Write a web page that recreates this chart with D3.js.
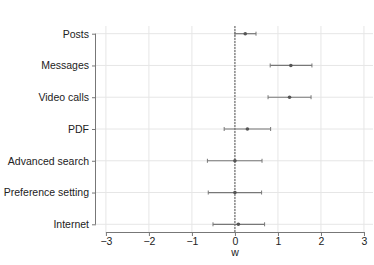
<!DOCTYPE html>
<html>
<head>
<meta charset="utf-8">
<script src="https://cdn.jsdelivr.net/npm/d3@7"></script>
<style>
body { margin: 0; background: #fff; }
text { font-family: "Liberation Sans", Arial, sans-serif; }
</style>
</head>
<body>
<script>
var categories = ["Posts", "Messages", "Video calls", "PDF", "Advanced search", "Preference setting", "Internet"];
var estimates = [0.24, 1.30, 1.27, 0.29, 0.00, 0.00, 0.08];
var lower = [0.00, 0.82, 0.77, -0.25, -0.64, -0.62, -0.51];
var upper = [0.49, 1.79, 1.77, 0.83, 0.63, 0.62, 0.69];
var xTicks = [-3, -2, -1, 0, 1, 2, 3];

var width = 374,
    height = 265,
    plotLeft = 96,
    plotRight = 373,
    plotTop = 26,
    plotBottom = 232;

var svg = d3.select("body")
            .append("svg")
            .attr("width", width)
            .attr("height", height);

var x = d3.scaleLinear().domain([-3.23, 3.21]).range([plotLeft, plotRight]);
var y = d3.scalePoint().domain(categories).range([plotTop + 7.7, plotBottom - 7.7]);

// grid
svg.selectAll(".vgrid")
   .data(xTicks)
   .enter()
   .append("line")
   .attr("x1", function(d){ return x(d); })
   .attr("x2", function(d){ return x(d); })
   .attr("y1", plotTop)
   .attr("y2", plotBottom)
   .attr("stroke", "#e6e6e6")
   .attr("stroke-width", 1);

svg.selectAll(".hgrid")
   .data(categories)
   .enter()
   .append("line")
   .attr("x1", plotLeft)
   .attr("x2", plotRight)
   .attr("y1", function(d){ return y(d); })
   .attr("y2", function(d){ return y(d); })
   .attr("stroke", "#e6e6e6")
   .attr("stroke-width", 1);

// zero line
svg.append("line")
   .attr("x1", x(0)).attr("x2", x(0))
   .attr("y1", plotTop).attr("y2", plotBottom)
   .attr("stroke", "#555")
   .attr("stroke-width", 1)
   .attr("stroke-dasharray", "2,1");

// x axis, trimmed to the ticks
var xAxis = svg.append("g")
   .attr("transform", "translate(0," + plotBottom + ")")
   .call(d3.axisBottom(x).tickValues(xTicks).tickSize(4).tickSizeOuter(0).tickFormat(d3.format("d")));
xAxis.select(".domain").attr("d", "M" + x(-3) + ",0.5H" + x(3)).attr("stroke", "#777");
xAxis.selectAll(".tick line").attr("stroke", "#777");
xAxis.selectAll("text").attr("font-size", "10.5px").attr("fill", "#222").attr("dy", "0.6em");

// y axis, trimmed to the categories
var yAxis = svg.append("g")
   .attr("transform", "translate(" + plotLeft + ",0)")
   .call(d3.axisLeft(y).tickSize(4).tickSizeOuter(0));
yAxis.select(".domain").attr("d", "M-0.5," + y(categories[0]) + "V" + y(categories[categories.length - 1])).attr("stroke", "#777");
yAxis.selectAll(".tick line").attr("stroke", "#777");
yAxis.selectAll("text").attr("font-size", "10.5px").attr("fill", "#222");

svg.append("text")
   .attr("x", x(0))
   .attr("y", 256)
   .attr("text-anchor", "middle")
   .attr("font-size", "10.5px")
   .attr("fill", "#222")
   .text("w");

// error bars
var rows = categories.map(function(c, i){ return {cat: c, est: estimates[i], lo: lower[i], hi: upper[i]}; });

var bars = svg.selectAll(".bar")
   .data(rows)
   .enter()
   .append("g");

bars.append("line")
   .attr("x1", function(d){ return x(d.lo); })
   .attr("x2", function(d){ return x(d.hi); })
   .attr("y1", function(d){ return y(d.cat); })
   .attr("y2", function(d){ return y(d.cat); })
   .attr("stroke", "#777")
   .attr("stroke-width", 1.2);

bars.append("line")
   .attr("x1", function(d){ return x(d.lo); })
   .attr("x2", function(d){ return x(d.lo); })
   .attr("y1", function(d){ return y(d.cat) - 2; })
   .attr("y2", function(d){ return y(d.cat) + 2; })
   .attr("stroke", "#777");

bars.append("line")
   .attr("x1", function(d){ return x(d.hi); })
   .attr("x2", function(d){ return x(d.hi); })
   .attr("y1", function(d){ return y(d.cat) - 2; })
   .attr("y2", function(d){ return y(d.cat) + 2; })
   .attr("stroke", "#777");

bars.append("circle")
   .attr("cx", function(d){ return x(d.est); })
   .attr("cy", function(d){ return y(d.cat); })
   .attr("r", 1.8)
   .attr("fill", "#555");
</script>
</body>
</html>
